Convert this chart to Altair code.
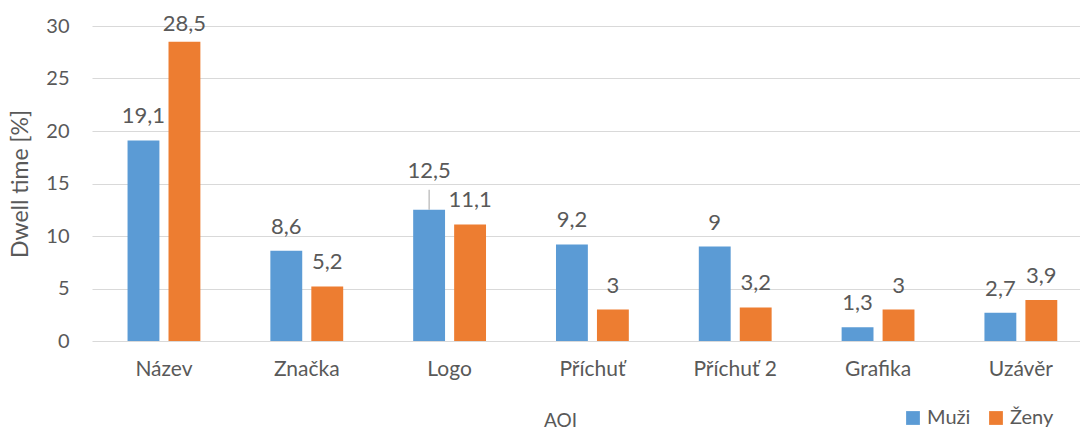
import altair as alt
import pandas as pd

# Dwell time per area of interest, split by gender
categories = ["Název", "Značka", "Logo", "Příchuť", "Příchuť 2", "Grafika", "Uzávěr"]
muzi = [19.1, 8.6, 12.5, 9.2, 9.0, 1.3, 2.7]
zeny = [28.5, 5.2, 11.1, 3.0, 3.2, 3.0, 3.9]
series = ["Muži", "Ženy"]
colors = ["#5B9BD5", "#ED7D31"]

rows = []
for cat, m, z in zip(categories, muzi, zeny):
    rows.append({"AOI": cat, "Pohlaví": "Muži", "Hodnota": m})
    rows.append({"AOI": cat, "Pohlaví": "Ženy", "Hodnota": z})
df = pd.DataFrame(rows)
df["Popis"] = df["Hodnota"].map(lambda v: f"{v:g}".replace(".", ","))

FONT = "Lato"
TXT = "#595959"
LABEL_SIZE = 21

x_enc = alt.X(
    "AOI:N",
    sort=categories,
    scale=alt.Scale(paddingInner=0.49, paddingOuter=0.204, align=0.61),
    axis=alt.Axis(
        title="AOI",
        labelAngle=0,
        labelPadding=17,
        labelFontSize=21,
        ticks=False,
        domain=False,
        titleFontSize=19,
        titleX=468,
        titleY=70,
        titleAnchor="middle",
        titleAlign="center",
        titleBaseline="top",
    ),
)
xoff = alt.XOffset("Pohlaví:N", sort=series, scale=alt.Scale(paddingInner=0.222))
y_enc = alt.Y(
    "Hodnota:Q",
    scale=alt.Scale(domain=[0, 30], nice=False),
    axis=alt.Axis(
        title="Dwell time [%]",
        values=[0, 5, 10, 15, 20, 25, 30],
        ticks=False,
        domain=False,
        labelPadding=23,
        labelFontSize=20,
        titleFontSize=23,
        titlePadding=13,
        grid=True,
    ),
)

base = alt.Chart(df).encode(x=x_enc, xOffset=xoff)

bars = base.mark_bar().encode(
    y=y_enc,
    color=alt.Color(
        "Pohlaví:N",
        sort=series,
        scale=alt.Scale(domain=series, range=colors),
        legend=alt.Legend(
            title=None,
            orient="none",
            legendX=811,
            legendY=382,
            direction="horizontal",
            symbolType="square",
            symbolSize=190,
            symbolStrokeWidth=0,
            labelOffset=4,
            columnPadding=15,
            padding=0,
        ),
    ),
)

is_nazev_z = (alt.datum.AOI == "Název") & (alt.datum["Pohlaví"] == "Ženy")
is_logo_m = (alt.datum.AOI == "Logo") & (alt.datum["Pohlaví"] == "Muži")

text_style = dict(baseline="alphabetic", color=TXT, fontSize=LABEL_SIZE + 1, font=FONT)

labels = (
    base.mark_text(dy=-17, **text_style)
    .encode(y="Hodnota:Q", text="Popis:N")
    .transform_filter(~(is_nazev_z | is_logo_m))
)
label_top = (
    base.mark_text(dy=-11, **text_style)
    .encode(y="Hodnota:Q", text="Popis:N")
    .transform_filter(is_nazev_z)
)
label_logo = (
    base.mark_text(dy=-32, **text_style)
    .encode(y="Hodnota:Q", text="Popis:N")
    .transform_filter(is_logo_m)
)
leader = (
    base.mark_rule(color="#a6a6a6", strokeWidth=1, y2Offset=-20)
    .encode(y="Hodnota:Q", y2="Hodnota:Q")
    .transform_filter(is_logo_m)
)

chart = (
    alt.layer(bars, labels, label_top, label_logo, leader)
    .properties(
        width=988,
        height=315,
        autosize=alt.AutoSizeParams(type="none"),
        padding={"left": 92, "top": 26, "right": 0, "bottom": 89},
    )
    .configure_view(stroke=None)
    .configure_axis(
        labelFont=FONT,
        titleFont=FONT,
        labelColor=TXT,
        titleColor=TXT,
        titleFontWeight="normal",
        gridColor="#d9d9d9",
        gridWidth=1,
    )
    .configure_legend(labelFont=FONT, labelFontSize=20, labelColor=TXT)
)

chart.save("out.html", embed_options={"renderer": "svg", "actions": False})
